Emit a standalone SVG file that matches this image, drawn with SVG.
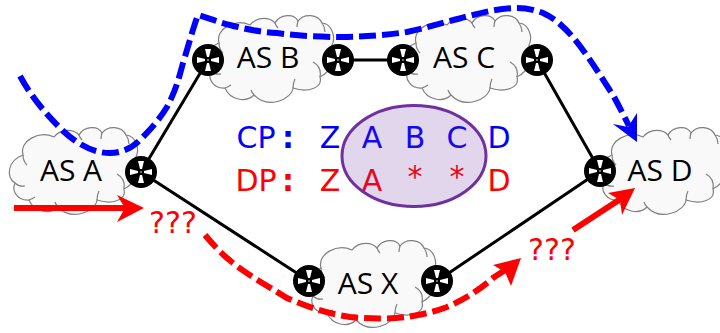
<svg xmlns="http://www.w3.org/2000/svg" xmlns:xlink="http://www.w3.org/1999/xlink" width="720" height="333" viewBox="0 0 720 333">
<style>
.cloud{fill:#f9f9f9;stroke:#808080;stroke-width:1.2}
.det{fill:none;stroke:#808080;stroke-width:1.2}
.as{font-family:"Open Sans",sans-serif;font-size:30px;fill:#000;text-anchor:middle}
.t{font-family:"DejaVu Sans",sans-serif;font-size:30px;text-anchor:middle}
.b{font-weight:bold}
.cp{fill:#0000ff}.dp{fill:#ff0000}
.link{stroke:#000;stroke-width:3;fill:none}
.dash{fill:none;stroke-width:6;stroke-dasharray:17 6}
</style>
<defs>
<g id="cl">
<path class="cloud" d="M9 28C5 14 25 3 40 10C47 1 60 2 65 8C70 -1 84 -2 88 6C94 -2 108 -1 112 8C122 9 126 22 122 30C126 44 122 56 110 62C113 73 98 78 83 73C82 84 58 95 44 80C36 88 20 85 15 73C4 74 -3 64 1 56C-8 50 -7 34 9 28Z"/>
<path class="det" d="M9 28Q9 34 13 38M65 8Q66 11 68 13M88 6Q87 9 87 12M112 8Q115 12 115 17M110 62Q112 52 103 47M83 73Q83 68 85 64M44 80Q42 78 41 75M15 73Q18 72 21 70M1 56Q5 60 11 59"/>
</g>
<g id="rt">
<circle r="16" fill="#000"/>
<path fill="#fff" d="M-3 -1L-11 -3L-11 3L-3 1ZM3 -1L11 -3L11 3L3 1ZM-1 -3L-3 -11L3 -11L1 -3ZM-1 3L-3 11L3 11L1 3Z"/>
<circle r="0.8" fill="#fff"/>
</g>
</defs>

<g id="as-a"><use xlink:href="#cl" href="#cl" x="14" y="127"/><text class="as" x="71" y="181">AS A</text></g>
<g id="as-b"><use xlink:href="#cl" href="#cl" x="210" y="15"/><text class="as" x="268" y="68">AS B</text></g>
<g id="as-c"><use xlink:href="#cl" href="#cl" x="407" y="15"/><text class="as" x="464" y="68">AS C</text></g>
<g id="as-d"><use xlink:href="#cl" href="#cl" x="603" y="127"/><text class="as" x="660" y="181">AS D</text></g>
<g id="as-x"><use xlink:href="#cl" href="#cl" x="312" y="240"/><text class="as" x="368" y="294">AS X</text></g>

<g id="path-table">
<text class="t cp" x="256" y="148">CP</text><text class="t cp b" x="288" y="148">:</text>
<text class="t cp" x="330" y="148">Z</text><text class="t cp" x="372" y="148">A</text><text class="t cp" x="415" y="148">B</text><text class="t cp" x="457" y="148">C</text><text class="t cp" x="499" y="148">D</text>
<text class="t dp" x="256" y="191">DP</text><text class="t dp b" x="288" y="191">:</text>
<text class="t dp" x="330" y="191">Z</text><text class="t dp" x="372" y="191">A</text><text class="t dp" x="415" y="187">*</text><text class="t dp" x="457" y="187">*</text><text class="t dp" x="499" y="191">D</text>
<ellipse cx="414" cy="156" rx="72" ry="50.5" fill="#7030a0" fill-opacity="0.2" stroke="#7030a0" stroke-width="3"/>
</g>

<g id="connectors">
<path class="link" d="M208 60L141 172M141 172L309 281M338 60L403 60M537 60L600 171M600 171L437 281"/>
<path class="dash" stroke="#0000ff" d="M20 76C32 98 46 114 62 130C78 145 94 153 110 153C122 153 132 148 140 140C150 130 159 120 167 107C176 90 179 78 183 63C189 44 193 28 198 15C208 18 218 22 230 25C245 29 260 32 277 33C298 36 320 37 340 37C365 37 387 35 407 32C430 27 452 20 473 15C488 11 503 8 517 8C527 8 535 10 543 13C570 25 590 60 613 95C619 106 624 116 629 126"/>
<path fill="#0000ff" d="M637 142L613 124L628 127L637 113Z"/>
<path stroke="#ff0000" stroke-width="6" fill="none" d="M14 208L128 208"/>
<path fill="#ff0000" d="M144 208L117 195L125 208L117 222Z"/>
<path class="dash" stroke="#ff0000" d="M205 235C215 247 224 256 233 263C248 275 266 285 287 298C310 308 330 314 350 317C370 319 390 319 407 317C420 315 434 312 447 307C463 300 478 291 493 278C497 275 501 273 505 270"/>
<path fill="#ff0000" d="M521 258L493 265L505 272L511 286Z"/>
<path stroke="#ff0000" stroke-width="6" fill="none" d="M573 230L622 198"/>
<path fill="#ff0000" d="M635 188L608 193L620 200L622 215Z"/>
</g>

<g id="r1"><use xlink:href="#rt" href="#rt" x="208" y="60"/></g>
<g id="r2"><use xlink:href="#rt" href="#rt" x="338" y="60"/></g>
<g id="r3"><use xlink:href="#rt" href="#rt" x="403" y="60"/></g>
<g id="r4"><use xlink:href="#rt" href="#rt" x="537" y="60"/></g>
<g id="r5"><use xlink:href="#rt" href="#rt" x="141" y="172"/></g>
<g id="r6"><use xlink:href="#rt" href="#rt" x="600" y="171"/></g>
<g id="r7"><use xlink:href="#rt" href="#rt" x="309" y="281"/></g>
<g id="r8"><use xlink:href="#rt" href="#rt" x="437" y="281"/></g>

<text class="t dp" x="173" y="233">???</text>
<text class="t dp" x="552" y="260">???</text>
</svg>
